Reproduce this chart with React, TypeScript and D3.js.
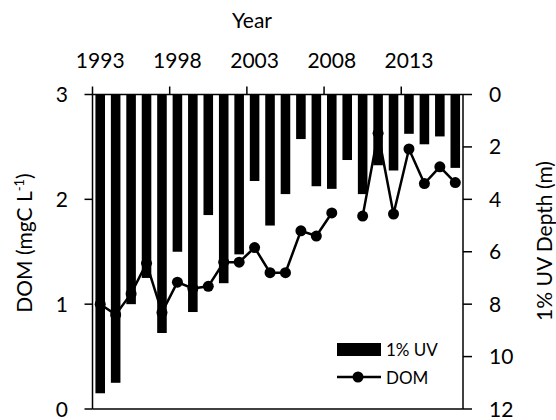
import React from 'react';
import * as d3 from 'd3';

// values
const years = [1993, 1994, 1995, 1996, 1997, 1998, 1999, 2000, 2001, 2002, 2003, 2004,
  2005, 2006, 2007, 2008, 2009, 2010, 2011, 2012, 2013, 2014, 2015, 2016];
const uvDepth = [11.4, 11.0, 8.0, 7.0, 9.1, 6.0, 8.3, 4.6, 7.2, 6.1, 3.3, 5.0,
  3.8, 1.7, 3.5, 3.6, 2.5, 3.8, 2.7, 2.9, 1.5, 1.9, 1.6, 2.8];
const dom: (number | null)[] = [1.0, 0.9, 1.1, 1.39, 0.92, 1.21, 1.15, 1.17, 1.4, 1.4, 1.54, 1.3,
  1.3, 1.7, 1.65, 1.87, null, 1.84, 2.63, 1.86, 2.48, 2.15, 2.31, 2.16];
const yearTicks = [1993, 1998, 2003, 2008, 2013];
const domTicks = [0, 1, 2, 3];
const depthTicks = [0, 2, 4, 6, 8, 10, 12];

const font = 'Lato, sans-serif';

const App = () => {
  const left = 92.5;
  const right = 463;
  const top = 94.5;
  const bottom = 409;

  const x = d3.scaleBand<number>()
    .domain(years)
    .range([left, right])
    .paddingInner(0.38)
    .paddingOuter(0.19);
  const step = x.step();
  const bw = x.bandwidth();
  const cx = (yr: number) => (x(yr) as number) + bw / 2;
  const edge = (yr: number) => (x(yr) as number) - (step - bw) / 2;

  const yDom = d3.scaleLinear().domain([0, 3]).range([bottom, top]);
  const yDepth = d3.scaleLinear().domain([0, 12]).range([top, bottom]);

  const pts = years.map((yr, i) => ({ yr, v: dom[i] }));
  const line = d3.line<{ yr: number; v: number | null }>()
    .defined((d) => d.v != null)
    .x((d) => cx(d.yr))
    .y((d) => yDom(d.v as number));

  return (
    <svg width={556} height={420} style={{ position: 'absolute', left: 0, top: 0 }} fontFamily={font}>
      <rect width={556} height={420} fill="white" />

      {/* bars hang from the top (inverted depth axis) */}
      {years.map((yr, i) => (
        <rect key={yr} x={x(yr)} y={top} width={bw} height={yDepth(uvDepth[i]) - top} fill="black" />
      ))}

      {/* DOM line */}
      <path d={line(pts) || ''} fill="none" stroke="black" strokeWidth={2.5} />
      {pts.filter((d) => d.v != null).map((d) => (
        <circle key={d.yr} cx={cx(d.yr)} cy={yDom(d.v as number)} r={5.5} fill="black" />
      ))}

      {/* frame lines */}
      <g stroke="black" strokeWidth={1.5}>
        <line x1={left} x2={right} y1={top} y2={top} />
        <line x1={left} x2={right} y1={bottom} y2={bottom} />
        <line x1={left} x2={left} y1={top} y2={bottom} />
        <line x1={right} x2={right} y1={top} y2={bottom} />
      </g>

      {/* top year axis */}
      {yearTicks.map((yr) => (
        <g key={yr}>
          <line x1={edge(yr)} x2={edge(yr)} y1={top - 8} y2={top} stroke="black" strokeWidth={1.5} />
          <text x={cx(yr)} y={68} textAnchor="middle" fontSize={21}>{yr}</text>
        </g>
      ))}
      <text x={252} y={28} textAnchor="middle" fontSize={21}>Year</text>

      {/* left DOM axis */}
      {domTicks.map((t) => (
        <g key={t}>
          <line x1={left - 8} x2={left} y1={yDom(t)} y2={yDom(t)} stroke="black" strokeWidth={1.5} />
          <text x={68} y={yDom(t)} dy="0.36em" textAnchor="end" fontSize={21}>{t}</text>
        </g>
      ))}
      <text transform="translate(32,243) rotate(-90)" textAnchor="middle" fontSize={21}>
        DOM (mgC L<tspan fontSize={13} dy={-8}>-1</tspan><tspan dy={8}>)</tspan>
      </text>

      {/* right depth axis */}
      {depthTicks.map((t) => (
        <g key={t}>
          <line x1={right} x2={right + 9} y1={yDepth(t)} y2={yDepth(t)} stroke="black" strokeWidth={1.5} />
          <text x={489} y={yDepth(t)} dy="0.36em" textAnchor="start" fontSize={21}>{t}</text>
        </g>
      ))}
      <text transform="translate(552,241) rotate(-90)" textAnchor="middle" fontSize={21}>
        1% UV Depth (m)
      </text>

      {/* legend */}
      <rect x={337} y={343} width={44} height={13} fill="black" />
      <text x={386} y={356} fontSize={17}>1% UV</text>
      <line x1={337} x2={381} y1={377} y2={377} stroke="black" strokeWidth={2.5} />
      <circle cx={358} cy={377} r={5.5} fill="black" />
      <text x={386} y={383.5} fontSize={17}>DOM</text>
    </svg>
  );
};

export default App;
